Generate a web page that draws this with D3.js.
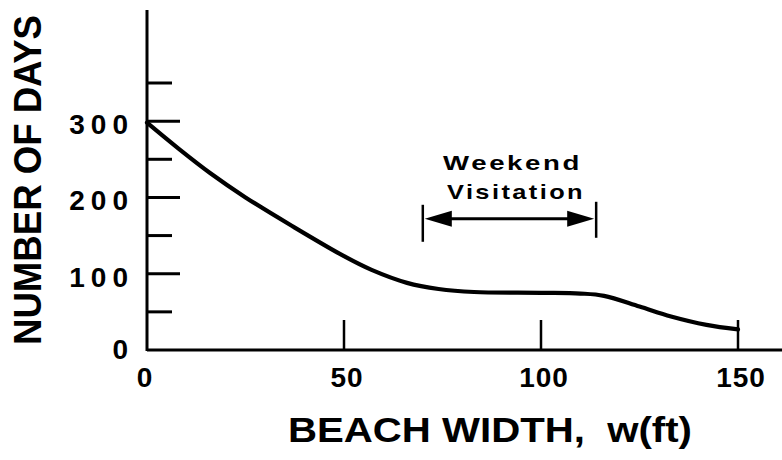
<!DOCTYPE html>
<html><head><meta charset="utf-8">
<script src="https://cdn.jsdelivr.net/npm/d3@7"></script>
<style>
html,body{margin:0;padding:0;background:#fff;}
text{font-family:"Liberation Sans",Arial,Helvetica,sans-serif;font-weight:bold;fill:#000;}
</style></head>
<body>
<svg id="chart" width="782" height="460"></svg>
<script>
// ---- data ----
const widthFt = [0, 8, 16, 25, 37, 50, 57, 66, 74, 83, 100, 110, 116, 125, 133, 142, 150];
const numDays = [298, 264, 232, 200, 162, 123, 105, 88, 80, 76, 75, 74, 71, 57, 44, 33, 27];
const xTickValues = [0, 50, 100, 150];
const xTickMarks = [50, 100, 150];
const yLabelValues = [0, 100, 200, 300];
const yMajorTicks = [100, 200, 300];
const yMinorTicks = [50, 150, 250, 350];
const weekendRange = [70, 114];
const weekendLevel = 172;
const weekendLines = ["Weekend", "Visitation"];
const xTitle = "BEACH WIDTH,  w(ft)";
const yTitle = "NUMBER OF DAYS";

// ---- scales ----
const svg = d3.select("#chart");
const x = d3.scaleLinear().domain([0, 150]).range([147, 738]);
const y = d3.scaleLinear().domain([0, 350]).range([350, 83]);
const xMax = x.invert(782);
const yMax = y.invert(10);

// axes lines
svg.append("line").attr("x1", x(0)).attr("x2", x(xMax)).attr("y1", y(0)).attr("y2", y(0))
  .attr("stroke", "#000").attr("stroke-width", 3);
svg.append("line").attr("x1", x(0)).attr("x2", x(0)).attr("y1", y(0) + 1).attr("y2", y(yMax))
  .attr("stroke", "#000").attr("stroke-width", 3);

// y ticks (inward)
svg.selectAll(".ymaj").data(yMajorTicks).enter().append("line")
  .attr("x1", x(0)).attr("x2", x(0) + 33).attr("y1", d => y(d)).attr("y2", d => y(d))
  .attr("stroke", "#000").attr("stroke-width", 3);
svg.selectAll(".ymin").data(yMinorTicks).enter().append("line")
  .attr("x1", x(0)).attr("x2", x(0) + 25).attr("y1", d => y(d)).attr("y2", d => y(d))
  .attr("stroke", "#000").attr("stroke-width", 3);

// x ticks (upward)
svg.selectAll(".xt").data(xTickMarks).enter().append("line")
  .attr("x1", d => x(d)).attr("x2", d => x(d)).attr("y1", y(0)).attr("y2", y(0) - 30)
  .attr("stroke", "#000").attr("stroke-width", 2.5);

// y labels
svg.selectAll(".yl").data(yLabelValues).enter().append("text")
  .attr("x", 134).attr("y", d => y(d) + (d === 0 ? 9 : 13))
  .attr("text-anchor", "end").attr("font-size", 28).attr("letter-spacing", 6)
  .text(d => d);

// x labels
svg.selectAll(".xl").data(xTickValues).enter().append("text")
  .attr("x", d => x(d) + (d === 0 ? -2 : 3)).attr("y", 387)
  .attr("text-anchor", "middle").attr("font-size", 28).attr("letter-spacing", 1)
  .text(d => d);

// curve
const line = d3.line().x((d, i) => x(widthFt[i])).y(d => y(d)).curve(d3.curveCatmullRom.alpha(0.5));
svg.append("path").attr("d", line(numDays)).attr("fill", "none")
  .attr("stroke", "#000").attr("stroke-width", 4.2).attr("stroke-linecap", "round");

// annotation
const ax1 = x(weekendRange[0]), ax2 = x(weekendRange[1]), ay = y(weekendLevel);
svg.append("line").attr("x1", ax1).attr("x2", ax1).attr("y1", ay - 14).attr("y2", ay + 23)
  .attr("stroke", "#000").attr("stroke-width", 2.5);
svg.append("line").attr("x1", ax2).attr("x2", ax2).attr("y1", ay - 17).attr("y2", ay + 19)
  .attr("stroke", "#000").attr("stroke-width", 2.5);
svg.append("line").attr("x1", ax1 + 20).attr("x2", ax2 - 20).attr("y1", ay).attr("y2", ay)
  .attr("stroke", "#000").attr("stroke-width", 3);
svg.append("path").attr("d", `M${ax1 + 2},${ay} L${ax1 + 29},${ay - 8} L${ax1 + 29},${ay + 8} Z`).attr("fill", "#000");
svg.append("path").attr("d", `M${ax2 - 2},${ay} L${ax2 - 29},${ay - 8} L${ax2 - 29},${ay + 8} Z`).attr("fill", "#000");
svg.append("text").attr("x", 443).attr("y", ay - 49)
  .attr("font-size", 21).attr("letter-spacing", 2).attr("textLength", 139)
  .attr("lengthAdjust", "spacingAndGlyphs").text(weekendLines[0]);
svg.append("text").attr("x", 447).attr("y", ay - 20)
  .attr("font-size", 21).attr("letter-spacing", 2).attr("textLength", 138)
  .attr("lengthAdjust", "spacingAndGlyphs").text(weekendLines[1]);

// titles
svg.append("text").attr("x", 288).attr("y", 442).attr("font-size", 35)
  .attr("textLength", 404).attr("lengthAdjust", "spacingAndGlyphs")
  .style("white-space", "pre").text(xTitle);
svg.append("text").attr("transform", "translate(41,345) rotate(-90)")
  .attr("font-size", 38).attr("textLength", 330).attr("lengthAdjust", "spacingAndGlyphs")
  .text(yTitle);
</script>
</body></html>
